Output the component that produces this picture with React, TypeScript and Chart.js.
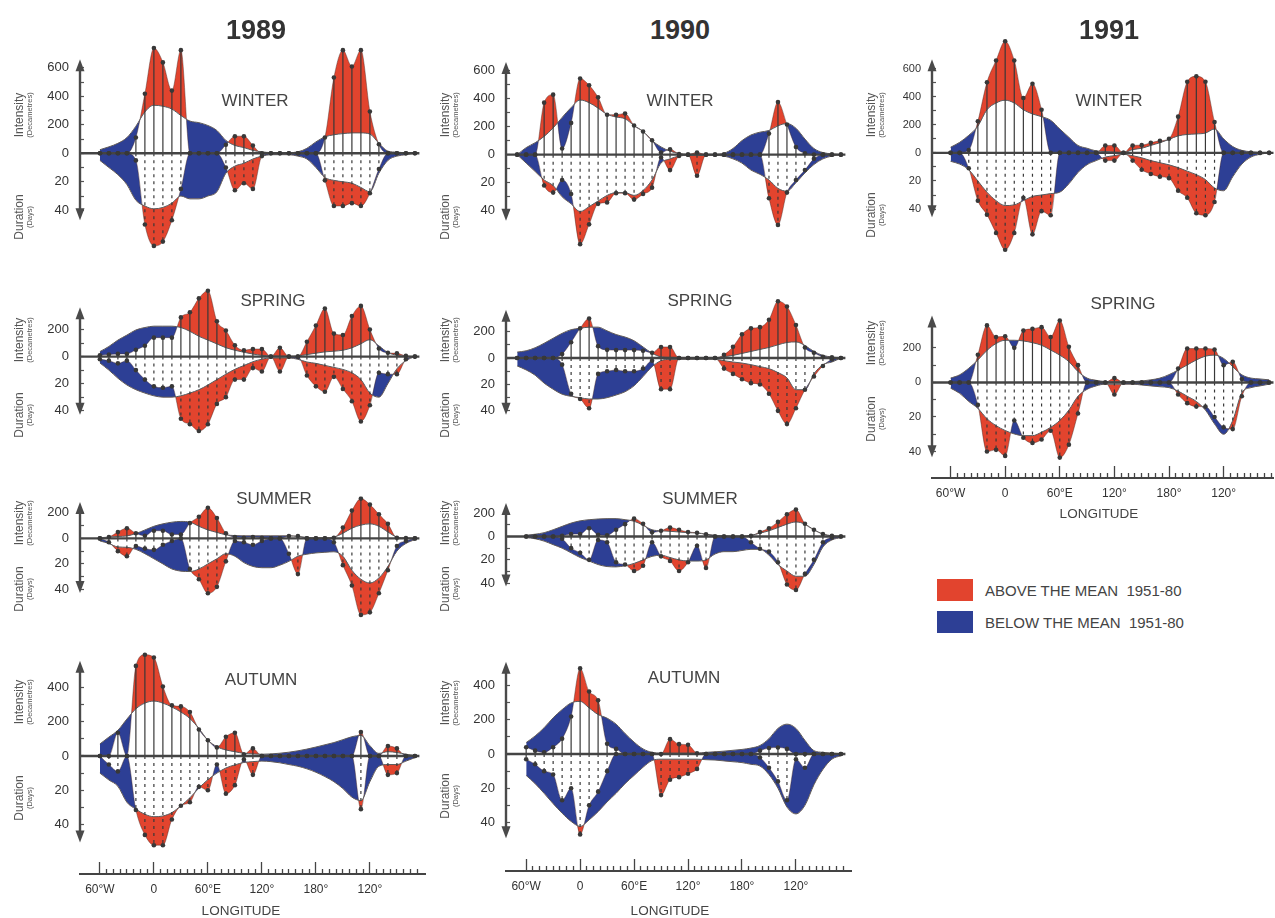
import React, { useEffect, useRef } from 'react';
import { Chart, registerables } from 'chart.js';

Chart.register(...registerables);

const FONT = "'Liberation Sans', Arial, Helvetica, sans-serif";
const RED = '#e2442e';
const BLUE = '#2d3f95';
const INK = '#383838';

// Longitude of each sample (degrees east; values past 180 continue westwards)
const LON = [-70, -60, -50, -40, -30, -20, -10, 0, 10, 20, 30, 40, 50, 60, 70, 80, 90, 100, 110, 120, 130, 140, 150, 160, 170, 180, 190, 200, 210, 220, 230, 240, 250, 260, 270, 280, 290];

// ---- 1989 ----
const W89_MEAN_I = [null, 25, 45, 70, 110, 190, 290, 337, 330, 310, 265, 226, 215, 195, 160, 90, 55, 40, 20, 10, 5, 5, 5, 10, 35, 80, 115, 130, 138, 143, 143, 135, 70, 15, 8, 3, 0];
const W89_ACT_I = [null, 0, 0, 0, 0, 111, 418, 739, 638, 440, 724, 0, 0, 0, 0, 60, 120, 120, 55, 0, 0, 0, 0, 0, 0, 0, 111, 532, 724, 609, 724, 293, 63, 0, 0, 0, 0];
const W89_MEAN_D = [null, 5, 10, 15, 22, 33, 37, 39, 38, 35, 30, 32, 32, 30, 27, 14, 9, 7, 4, 2, 1, 1, 1, 2, 4, 10, 17, 19, 20, 21, 24, 27, 14, 5, 2, 1, 0];
const W89_ACT_D = [null, 0, 0, 0, 0, 5, 50, 65, 62, 47, 25, 0, 0, 0, 0, 10, 26, 21, 25, 2, 0, 0, 0, 0, 0, 0, 19, 37, 37, 35, 37, 28, 11, 0, 0, 0, 0];

const S89_MEAN_I = [null, 37, 75, 122, 159, 197, 215, 225, 225, 225, 215, 187, 150, 122, 94, 66, 47, 32, 19, 9, 5, 3, 3, 5, 15, 25, 35, 40, 47, 65, 95, 125, 80, 30, 10, 3, 0];
const S89_ACT_I = [null, 10, 15, 20, 20, 50, 80, 140, 140, 140, 290, 328, 431, 487, 262, 193, 84, 47, 56, 56, 0, 65, 0, 0, 110, 230, 355, 170, 160, 300, 375, 200, 60, 28, 24, 5, 0];
const S89_MEAN_D = [null, 4.7, 10, 16, 21, 24.5, 27, 29, 30, 30, 29, 27, 24.5, 21, 17, 13, 9.4, 6.6, 3.8, 1.9, 1, 1, 1, 2, 4, 5, 6.5, 8, 9.5, 12, 17, 27, 30, 20, 9, 3, 0];
const S89_ACT_D = [null, 2, 3, 5, 3, 10, 17, 22, 23, 22, 46, 50, 55, 50, 35, 30, 17, 17, 8.5, 11, 0, 11, 0, 0, 14, 22, 26, 15, 24, 33, 48, 36, 12, 13, 13, 2, 0];

const U89_MEAN_I = [null, 5, 10, 15, 19, 38, 66, 95, 114, 127, 133, 127, 95, 66, 47, 28, 22, 20, 20, 20, 20, 20, 20, 15, 8, 5, 5, 10, 40, 80, 104, 114, 95, 50, 10, 3, 0];
const U89_ACT_I = [null, 0, 10, 50, 80, 40, 20, 60, 60, 30, 30, 120, 170, 240, 160, 40, 10, 5, 10, 5, 0, 0, 19, 19, 0, 0, 0, 5, 85, 218, 312, 265, 189, 114, 5, 3, 0];
const U89_MEAN_D = [null, 2, 4, 6.7, 7, 8.6, 12, 16, 20, 24, 25.7, 26, 24, 20, 16, 12, 14, 19, 22, 23, 23, 21, 18, 14, 12.4, 11.4, 10.9, 10.5, 14, 25, 32, 35, 31, 22, 10, 4, 1];
const U89_ACT_D = [null, 0, 3, 10, 14, 6, 8, 9, 5, 2, 0, 24, 32, 43, 38, 18, 2, 3, 5, 2, 0, 0, 12, 28, 0, 0, 0, 3, 21, 37, 60, 58, 43, 25, 6, 2, 0];

const A89_MEAN_I = [null, 70, 110, 150, 215, 275, 308, 320, 308, 285, 256, 218, 160, 92, 54, 35, 25, 15, 12, 10, 12, 16, 22, 30, 40, 52, 65, 78, 95, 112, 120, 60, 15, 25, 20, 10, 3];
const A89_ACT_I = [null, 0, 0, 135, 0, 525, 590, 574, 405, 295, 289, 256, 154, 92, 50, 112, 135, 10, 44, 0, 0, 0, 0, 0, 0, 0, 0, 0, 0, 0, 140, 0, 0, 58, 44, 0, 0];
const A89_MEAN_D = [null, 10, 14, 17.7, 27, 31, 34, 35.4, 35, 33, 29, 24.4, 18.7, 13.8, 10, 7, 5.2, 3.8, 3.3, 3, 3.3, 4, 5, 6, 7.5, 9.5, 12, 15, 19, 24, 26, 15, 6, 5, 5, 3, 1];
const A89_ACT_D = [null, 0, 5, 9, 0, 31.5, 46, 52, 52, 37, 29, 27, 18, 20, 5, 22, 17, 2, 11, 0, 0, 0, 0, 0, 0, 0, 0, 0, 0, 0, 31, 0, 0, 11, 10, 0, 0];

// ---- 1990 ----
const W90_MEAN_I = [0, 50, 85, 130, 190, 265, 335, 389, 370, 331, 287, 268, 255, 207, 165, 100, 55, 25, 8, 3, 3, 3, 3, 10, 44, 100, 140, 160, 172, 205, 222, 188, 111, 44, 15, 6, 0];
const W90_ACT_I = [0, 0, 0, 370, 427, 44, 226, 542, 494, 408, 284, 284, 293, 207, 165, 102, 15, 38, 5, 0, 15, 0, 0, 0, 0, 0, 0, 0, 150, 374, 215, 54, 10, 0, 0, 0, 0];
const W90_MEAN_D = [0, 6, 12, 18, 22, 30, 35, 40.5, 37, 33, 29, 27, 27, 29, 25.5, 18, 6, 3, 1, 0.5, 0.5, 0.5, 0.5, 1, 3, 6, 11, 14, 18, 24, 26, 20, 13, 7, 3, 1, 0];
const W90_ACT_D = [0, 0, 0, 22, 27, 18, 28, 63.7, 49.6, 35, 34, 27.4, 27.4, 32, 28, 23.5, 2, 11, 1, 0, 15, 0, 0, 0, 0, 0, 0, 0, 31, 50, 27, 18, 11, 3, 0, 0, 0];

const S90_MEAN_I = [45, 55, 78, 112, 150, 187, 215, 225, 234, 234, 206, 178, 159, 131, 84, 37, 9, 5, 3, 2, 2, 2, 2, 10, 20, 35, 50, 65, 80, 100, 118, 122, 95, 50, 20, 8, 0];
const S90_ACT_I = [0, 0, 0, 0, 0, 30, 120, 225, 300, 90, 62, 60, 60, 60, 55, 40, 84, 84, 0, 0, 0, 0, 0, 25, 85, 180, 225, 234, 290, 430, 390, 250, 80, 40, 10, 5, 0];
const S90_MEAN_D = [6, 9, 13, 19, 23.6, 27.4, 29, 30, 31, 31, 30, 28, 25.5, 21, 14, 6.6, 2, 1, 1, 1, 1, 1, 1, 2, 3, 3.8, 5, 6.5, 8, 11, 15, 24, 24, 12, 5, 3, 0];
const S90_ACT_D = [0, 0, 0, 0, 0, 5, 27, 31, 38, 12, 10, 9, 10, 10, 8, 2, 23.6, 23.6, 0, 0, 0, 0, 0, 8, 12, 16, 19, 20, 27, 40, 50, 38, 24, 14, 6, 1, 0];

const U90_MEAN_I = [null, 10, 19, 32, 57, 86, 114, 133, 143, 149, 152, 152, 143, 130, 95, 57, 48, 44, 38, 32, 29, 19, 10, 5, 3, 3, 10, 28, 48, 76, 105, 124, 105, 57, 20, 6, 0];
const U90_ACT_I = [null, 0, 0, 0, 0, 5, 20, 20, 70, 15, 10, 57, 105, 152, 108, 35, 48, 76, 57, 38, 32, 19, 0, 0, 0, 0, 5, 38, 70, 124, 190, 229, 108, 57, 20, 5, 0];
const U90_MEAN_D = [null, 1, 2, 4, 7, 10, 14, 18, 21, 24, 25.7, 26, 25, 23, 20, 17, 16, 18, 20, 21, 21, 20, 15, 13, 13, 12, 11, 11, 16, 24, 29.5, 34, 34, 24, 9, 3, 1];
const U90_ACT_D = [null, 0, 0, 0, 0, 2, 10, 14, 20, 3, 5, 22, 24, 29.5, 25, 5, 17, 21, 29.5, 22, 8, 27, 0, 0, 0, 0, 5, 10.5, 13, 22, 41, 45.7, 32, 20, 5, 1, 0];

const A90_MEAN_I = [null, 67, 106, 154, 212, 260, 299, 308, 270, 231, 210, 175, 120, 70, 30, 10, 5, 5, 5, 5, 5, 10, 13, 17, 22, 27, 35, 50, 90, 150, 175, 150, 80, 20, 10, 5, 2];
const A90_ACT_I = [null, 40, 20, 10, 40, 90, 220, 501, 366, 314, 60, 30, 0, 0, 0, 0, 0, 87, 58, 54, 5, 0, 0, 0, 0, 0, 0, 20, 35, 38, 30, 0, 0, 0, 0, 0, 0];
const A90_MEAN_D = [null, 12.5, 17.3, 23, 29, 34.6, 39.4, 42.3, 38.5, 33.7, 28, 23, 17.3, 12.5, 7.7, 3.8, 3, 3, 3, 3, 3, 3.3, 3.5, 4, 4.5, 5, 6, 7, 12, 20, 31, 35, 30, 18, 9, 3, 1];
const A90_ACT_D = [null, 3, 6, 10, 12, 27, 20, 47, 30, 22, 10, 0, 0, 0, 0, 0, 24, 15, 13.5, 11.5, 8.7, 0, 0, 0, 0, 0, 0, 2, 8, 16, 27, 3, 8, 0, 0, 0, 0];

// ---- 1991 ----
const W91_MEAN_I = [null, 40, 75, 125, 190, 307, 355, 375, 355, 307, 277, 258, 232, 170, 111, 53, 33, 14, 10, 5, 2, 23, 33, 53, 72, 96, 121, 131, 135, 141, 170, 100, 45, 18, 8, 3, 0];
const W91_ACT_I = [null, 0, 0, 20, 225, 502, 658, 795, 658, 391, 492, 307, 0, 0, 0, 0, 0, 0, 53, 53, 0, 53, 55, 72, 86, 101, 258, 506, 545, 506, 219, 0, 0, 0, 0, 0, 0];
const W91_MEAN_D = [null, 6, 8, 12, 20, 28, 34, 37.5, 37, 34, 31, 30, 29, 28, 22, 14, 8.4, 5.5, 3, 2, 1, 2, 3.5, 5.5, 7, 8.5, 10.5, 13, 15.5, 19, 25, 27, 17, 8, 3, 1, 0];
const W91_ACT_D = [null, 0, 0, 11, 34, 44, 57, 69, 57, 32, 58, 41.5, 44.4, 0, 0, 0, 0, 0, 5.5, 5.5, 0, 5.5, 12, 15, 17, 18, 27, 32, 43, 44.4, 35, 0, 0, 0, 0, 0, 0];

const S91_MEAN_I = [null, 25, 44, 82, 130, 185, 225, 244, 244, 240, 230, 215, 187, 158, 120, 63, 25, 12, 5, 3, 3, 5, 8, 15, 25, 45, 72, 101, 130, 152, 158, 139, 91, 44, 25, 20, 15];
const S91_ACT_I = [null, 0, 0, 0, 160, 330, 263, 267, 200, 300, 310, 320, 263, 358, 206, 100, 0, 0, 0, 25, 0, 0, 0, 0, 0, 0, 80, 196, 196, 196, 190, 100, 120, 20, 0, 0, 0];
const S91_MEAN_D = [null, 3.3, 6.3, 11, 15, 21, 25, 27.8, 29.8, 30.8, 30.8, 28.8, 26, 22, 16, 8, 4, 2, 1, 1, 1, 1, 1.5, 2, 2.5, 3, 5, 8, 11, 16, 24, 30, 22, 6, 3, 2, 1];
const S91_ACT_D = [null, 0, 0, 0, 13, 40, 39, 42.5, 22, 32, 35, 33, 28, 43.5, 36, 18, 0, 0, 0, 7, 0, 0, 0, 0, 0, 0, 7, 12, 14, 14, 20, 26, 27, 8, 0, 0, 0];

// ---- axis ticks & labels ----
const DAY_UNIT = 10; // one day of duration is drawn as 10 decametres below the zero line
const ZERO_LINE_END = 295;
const X_MAJOR = [-60, 0, 60, 120, 180, 240];
const X_MAJOR_LABELS = ['60°W', '0', '60°E', '120°', '180°', '120°'];
const X_TICK_FIRST = -60;
const X_TICK_LAST = 292.5;
const X_TICK_STEP = 7.5;
const X_TICK_VALUES = Array.from(
  { length: Math.round((X_TICK_LAST - X_TICK_FIRST) / X_TICK_STEP) + 1 },
  (_, i) => X_TICK_FIRST + i * X_TICK_STEP
);

const WINTER_TICKS = [600, 500, 400, 300, 200, 100, 0, -100, -200, -300, -400];
const WINTER_TICK_LABELS = ['600', '', '400', '', '200', '', '0', '', '20', '', '40'];
const MID_TICKS = [200, 100, 0, -100, -200, -300, -400];
const MID_TICK_LABELS = ['200', '', '0', '', '20', '', '40'];
const AUTUMN_TICKS = [400, 300, 200, 100, 0, -100, -200, -300, -400];
const AUTUMN_TICK_LABELS = ['400', '', '200', '', '0', '', '20', '', '40'];

const Y_AXIS_W = 70;
const X_AXIS_H = 45;

const COLUMNS = [
  { year: '1989', axisX: 80, zeroX: 154.3, pxPerDeg: 0.905, xMax: 302, labelFont: 13, yearX: 256, lonX: 241, lonY: 911 },
  { year: '1990', axisX: 505.5, zeroX: 580, pxPerDeg: 0.904, xMax: 302, labelFont: 13, yearX: 680, lonX: 670, lonY: 911 },
  { year: '1991', axisX: 932, zeroX: 1005.7, pxPerDeg: 0.917, xMax: 295, labelFont: 11, yearX: 1109, lonX: 1099, lonY: 514 },
];

const PANELS = [
  { id: 'w89', col: 0, season: 'WINTER', meanI: W89_MEAN_I, actI: W89_ACT_I, meanD: W89_MEAN_D, actD: W89_ACT_D, zeroY: 176, ppu: 0.174, yMax: 800, yMin: -700, ticks: WINTER_TICKS, tickLabels: WINTER_TICK_LABELS, arrow: [660, -470], showX: false, sx: 255, sy: 100 },
  { id: 's89', col: 0, season: 'SPRING', meanI: S89_MEAN_I, actI: S89_ACT_I, meanD: S89_MEAN_D, actD: S89_ACT_D, zeroY: 376.7, ppu: 0.178, yMax: 520, yMin: -580, ticks: MID_TICKS, tickLabels: MID_TICK_LABELS, arrow: [365, -430], showX: false, sx: 273, sy: 300 },
  { id: 'u89', col: 0, season: 'SUMMER', meanI: U89_MEAN_I, actI: U89_ACT_I, meanD: U89_MEAN_D, actD: U89_ACT_D, zeroY: 551.7, ppu: 0.176, yMax: 330, yMin: -640, ticks: MID_TICKS, tickLabels: MID_TICK_LABELS, arrow: [285, -428], showX: false, sx: 274, sy: 498 },
  { id: 'a89', col: 0, season: 'AUTUMN', meanI: A89_MEAN_I, actI: A89_ACT_I, meanD: A89_MEAN_D, actD: A89_ACT_D, zeroY: 754.3, ppu: 0.173, yMax: 680, yMin: -688, ticks: AUTUMN_TICKS, tickLabels: AUTUMN_TICK_LABELS, arrow: [555, -505], showX: true, sx: 261, sy: 679 },
  { id: 'w90', col: 1, season: 'WINTER', meanI: W90_MEAN_I, actI: W90_ACT_I, meanD: W90_MEAN_D, actD: W90_ACT_D, zeroY: 176, ppu: 0.174, yMax: 700, yMin: -700, ticks: WINTER_TICKS, tickLabels: WINTER_TICK_LABELS, arrow: [660, -470], showX: false, sx: 680, sy: 100 },
  { id: 's90', col: 1, season: 'SPRING', meanI: S90_MEAN_I, actI: S90_ACT_I, meanD: S90_MEAN_D, actD: S90_ACT_D, zeroY: 376.7, ppu: 0.178, yMax: 460, yMin: -560, ticks: MID_TICKS, tickLabels: MID_TICK_LABELS, arrow: [365, -430], showX: false, sx: 700, sy: 300 },
  { id: 'u90', col: 1, season: 'SUMMER', meanI: U90_MEAN_I, actI: U90_ACT_I, meanD: U90_MEAN_D, actD: U90_ACT_D, zeroY: 551.7, ppu: 0.176, yMax: 300, yMin: -500, ticks: MID_TICKS, tickLabels: MID_TICK_LABELS, arrow: [285, -428], showX: false, sx: 700, sy: 498 },
  { id: 'a90', col: 1, season: 'AUTUMN', meanI: A90_MEAN_I, actI: A90_ACT_I, meanD: A90_MEAN_D, actD: A90_ACT_D, zeroY: 753.3, ppu: 0.173, yMax: 560, yMin: -684, ticks: AUTUMN_TICKS, tickLabels: AUTUMN_TICK_LABELS, arrow: [540, -492], showX: true, sx: 684, sy: 677 },
  { id: 'w91', col: 2, season: 'WINTER', meanI: W91_MEAN_I, actI: W91_ACT_I, meanD: W91_MEAN_D, actD: W91_ACT_D, zeroY: 175.7, ppu: 0.171, yMax: 830, yMin: -720, ticks: WINTER_TICKS, tickLabels: WINTER_TICK_LABELS, arrow: [667, -458], showX: false, sx: 1109, sy: 100 },
  { id: 's91', col: 2, season: 'SPRING', meanI: S91_MEAN_I, actI: S91_ACT_I, meanD: S91_MEAN_D, actD: S91_ACT_D, zeroY: 381, ppu: 0.175, yMax: 400, yMin: -553, ticks: MID_TICKS, tickLabels: MID_TICK_LABELS, arrow: [387, -433], showX: true, sx: 1123, sy: 303 },
];

const arrowAxisPlugin = {
  id: 'arrowAxis',
  afterDatasetsDraw(chart: any, _args: any, opts: any) {
    const { ctx, chartArea, scales } = chart;
    const y = scales.y;
    const x = chartArea.left;
    const yTop = y.getPixelForValue(opts.top);
    const yBot = y.getPixelForValue(opts.bottom);
    ctx.save();
    ctx.strokeStyle = '#4a4a4a';
    ctx.fillStyle = '#4a4a4a';
    ctx.lineWidth = 2.4;
    ctx.beginPath();
    ctx.moveTo(x, yTop + 8);
    ctx.lineTo(x, yBot - 8);
    ctx.stroke();
    ctx.beginPath();
    ctx.moveTo(x, yTop);
    ctx.lineTo(x - 4.5, yTop + 12);
    ctx.lineTo(x + 4.5, yTop + 12);
    ctx.closePath();
    ctx.fill();
    ctx.beginPath();
    ctx.moveTo(x, yBot);
    ctx.lineTo(x - 4.5, yBot - 12);
    ctx.lineTo(x + 4.5, yBot - 12);
    ctx.closePath();
    ctx.fill();
    ctx.restore();
  },
};

function series(vals: (number | null)[], sign: number) {
  return LON.map((x, i) => ({ x, y: vals[i] == null ? null : (vals[i] as number) * sign }));
}

function hatch(vals: (number | null)[], sign: number) {
  const out: any[] = [];
  LON.forEach((x, i) => {
    const v = vals[i];
    if (v) out.push({ x, y: 0 }, { x, y: v * sign }, { x, y: null });
  });
  return out;
}

function PanelChart({ panel }: { panel: any }) {
  const ref = useRef<HTMLCanvasElement>(null);
  const col = COLUMNS[panel.col];
  const xMin = (col.axisX - col.zeroX) / col.pxPerDeg;
  const areaW = (col.xMax - xMin) * col.pxPerDeg;
  const areaH = (panel.yMax - panel.yMin) * panel.ppu;
  const top = Math.round(panel.zeroY - panel.yMax * panel.ppu);
  const left = Math.round(col.axisX - Y_AXIS_W);
  const width = Math.round(Y_AXIS_W + areaW);
  const height = Math.round(areaH + (panel.showX ? X_AXIS_H : 0));

  useEffect(() => {
    if (!ref.current) return;
    const lineBase = { pointRadius: 0, pointHoverRadius: 0, fill: false };
    const chart = new Chart(ref.current, {
      type: 'line',
      data: {
        datasets: [
          { ...lineBase, data: series(panel.meanI, 1), borderColor: '#5a5a5a', borderWidth: 1, cubicInterpolationMode: 'monotone', order: 5 },
          { ...lineBase, data: series(panel.meanD, -DAY_UNIT), borderColor: '#5a5a5a', borderWidth: 1, cubicInterpolationMode: 'monotone', order: 5 },
          { ...lineBase, data: series(panel.actI, 1), borderColor: 'rgba(70,40,35,0.55)', borderWidth: 0.8, cubicInterpolationMode: 'monotone', fill: { target: 0, above: RED, below: BLUE }, order: 6 },
          { ...lineBase, data: series(panel.actD, -DAY_UNIT), borderColor: 'rgba(70,40,35,0.55)', borderWidth: 0.8, cubicInterpolationMode: 'monotone', fill: { target: 1, above: BLUE, below: RED }, order: 6 },
          { ...lineBase, data: hatch(panel.actI, 1), borderColor: INK, borderWidth: 1.2, tension: 0, order: 4 },
          { ...lineBase, data: hatch(panel.actD, -DAY_UNIT), borderColor: INK, borderWidth: 1.2, borderDash: [3, 4], tension: 0, order: 4 },
          { ...lineBase, data: [{ x: xMin, y: 0 }, { x: ZERO_LINE_END, y: 0 }], borderColor: '#444', borderWidth: 2.4, order: 3 },
          { data: series(panel.actI, 1), showLine: false, pointRadius: 2.3, pointHoverRadius: 2.3, pointBackgroundColor: INK, pointBorderWidth: 0, order: 1 },
          { data: series(panel.actD, -DAY_UNIT), showLine: false, pointRadius: 2.3, pointHoverRadius: 2.3, pointBackgroundColor: INK, pointBorderWidth: 0, order: 1 },
        ],
      },
      options: {
        animation: false,
        responsive: false,
        maintainAspectRatio: false,
        events: [],
        layout: { padding: 0 },
        plugins: {
          legend: { display: false },
          tooltip: { enabled: false },
          title: { display: false },
          arrowAxis: { top: panel.arrow[0], bottom: panel.arrow[1] },
        },
        scales: {
          x: {
            type: 'linear',
            position: 'bottom',
            min: xMin,
            max: col.xMax,
            display: panel.showX,
            afterBuildTicks: (s: any) => {
              s.ticks = X_TICK_VALUES.map((value) => ({ value }));
            },
            afterFit: (s: any) => {
              s.height = X_AXIS_H;
              s.paddingLeft = 0;
              s.paddingRight = 0;
            },
            border: { display: true, color: '#444', width: 2 },
            grid: {
              display: true,
              drawOnChartArea: false,
              drawTicks: true,
              tickLength: -12,
              tickColor: '#444',
              tickWidth: 1.3,
              tickBorderDash: (ctx: any) => (ctx.tick && X_MAJOR.includes(ctx.tick.value) ? [] : [6, 60]),
            },
            ticks: {
              autoSkip: false,
              maxRotation: 0,
              minRotation: 0,
              padding: 20,
              color: '#333',
              font: { family: FONT, size: 12 },
              callback: (v: any) => {
                const i = X_MAJOR.indexOf(Number(v));
                return i >= 0 ? X_MAJOR_LABELS[i] : '';
              },
            },
          },
          y: {
            type: 'linear',
            position: 'left',
            min: panel.yMin,
            max: panel.yMax,
            afterBuildTicks: (s: any) => {
              s.ticks = panel.ticks.map((value: number) => ({ value }));
            },
            afterFit: (s: any) => {
              s.width = Y_AXIS_W;
              s.paddingTop = 0;
              s.paddingBottom = 0;
            },
            border: { display: false },
            grid: {
              display: true,
              drawOnChartArea: false,
              drawTicks: true,
              tickLength: -4,
              tickColor: '#555',
              tickWidth: 1.2,
            },
            ticks: {
              autoSkip: false,
              padding: 15,
              color: '#333',
              font: { family: FONT, size: col.labelFont },
              callback: (v: any) => {
                const i = panel.ticks.indexOf(Number(v));
                return i >= 0 ? panel.tickLabels[i] : '';
              },
            },
          },
        },
      } as any,
      plugins: [arrowAxisPlugin],
    } as any);
    return () => chart.destroy();
  }, []);

  return (
    <canvas
      ref={ref}
      width={width}
      height={height}
      style={{ position: 'absolute', left, top, width, height }}
    />
  );
}

function Txt({ x, y, size, children, weight = 400, color = '#444', rotate = false }: any) {
  return (
    <div
      style={{
        position: 'absolute',
        left: x,
        top: y,
        transform: `translate(-50%, -50%)${rotate ? ' rotate(-90deg)' : ''}`,
        fontFamily: FONT,
        fontSize: size,
        fontWeight: weight,
        color,
        whiteSpace: 'nowrap',
        lineHeight: 1,
      }}
    >
      {children}
    </div>
  );
}

export default function App() {
  return (
    <div style={{ position: 'fixed', left: 0, top: 0, width: 1275, height: 918, overflow: 'hidden', background: '#fff' }}>
      {PANELS.map((p) => (
        <PanelChart key={p.id} panel={p} />
      ))}
      {COLUMNS.map((c) => (
        <Txt key={c.year} x={c.yearX} y={30} size={27} weight={700} color="#333">
          {c.year}
        </Txt>
      ))}
      {PANELS.map((p) => {
        const c = COLUMNS[p.col];
        const topPx = p.zeroY - p.arrow[0] * p.ppu;
        const botPx = p.zeroY - p.arrow[1] * p.ppu;
        const iy = (topPx + p.zeroY) / 2 - 4;
        const dy = (p.zeroY + botPx) / 2;
        return (
          <React.Fragment key={p.id + '-t'}>
            <Txt x={p.sx} y={p.sy} size={17} color="#444">{p.season}</Txt>
            <Txt x={c.axisX - 61} y={iy} size={12} color="#555" rotate>Intensity</Txt>
            <Txt x={c.axisX - 50} y={iy} size={7.5} color="#555" rotate>(Decametres)</Txt>
            <Txt x={c.axisX - 61} y={dy} size={12} color="#555" rotate>Duration</Txt>
            <Txt x={c.axisX - 50} y={dy} size={7.5} color="#555" rotate>(Days)</Txt>
          </React.Fragment>
        );
      })}
      {COLUMNS.map((c) => (
        <Txt key={c.year + '-lon'} x={c.lonX} y={c.lonY} size={13.5} color="#444">LONGITUDE</Txt>
      ))}
      <div style={{ position: 'absolute', left: 937, top: 579, width: 36, height: 22, background: RED }} />
      <div style={{ position: 'absolute', left: 985, top: 590, transform: 'translateY(-50%)', fontFamily: FONT, fontSize: 15, color: '#444', whiteSpace: 'pre', lineHeight: 1 }}>
        ABOVE THE MEAN  1951-80
      </div>
      <div style={{ position: 'absolute', left: 937, top: 611, width: 36, height: 22, background: BLUE }} />
      <div style={{ position: 'absolute', left: 985, top: 622, transform: 'translateY(-50%)', fontFamily: FONT, fontSize: 15, color: '#444', whiteSpace: 'pre', lineHeight: 1 }}>
        BELOW THE MEAN  1951-80
      </div>
    </div>
  );
}
